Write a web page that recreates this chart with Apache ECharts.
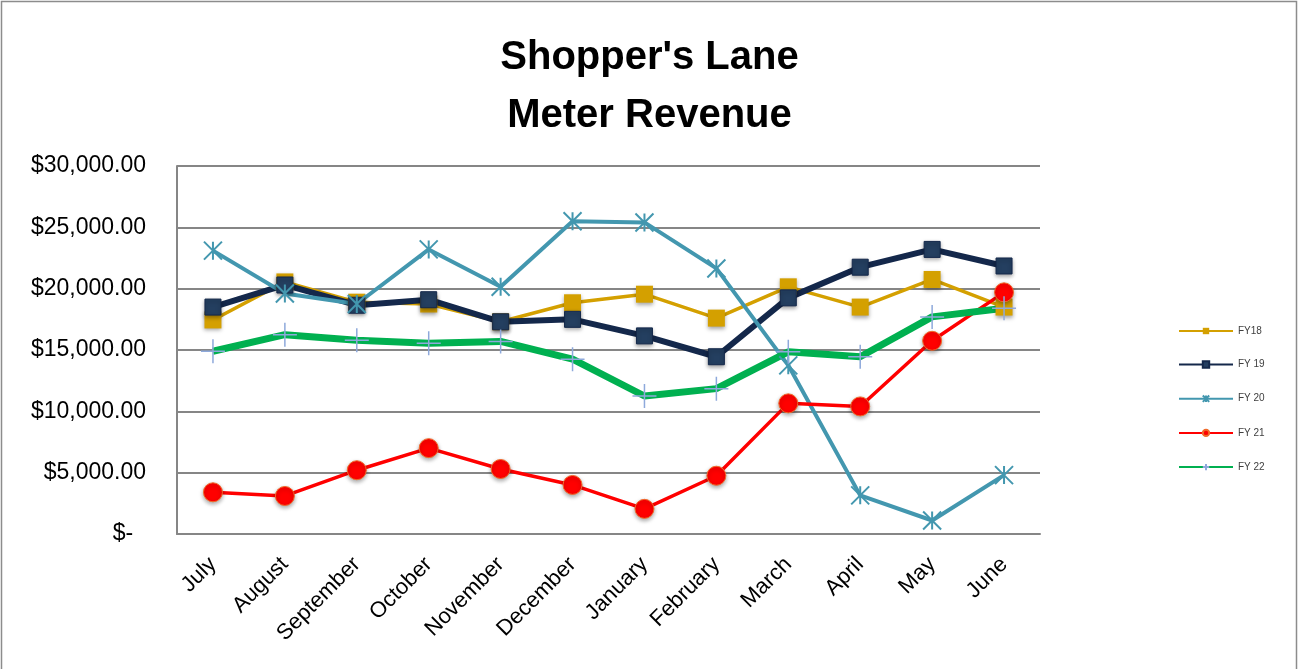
<!DOCTYPE html>
<html lang="en">
<head>
    <meta charset="UTF-8">
    <title>Shopper's Lane Meter Revenue</title>
    <style>
        * {
            margin: 0px;
            padding: 0px;
        }

        #main {
            width: 1299px;
            height: 669px;
            background-color: #ffffff
        }
    </style>
</head>
<body>
<div id="main"></div>
<script src="https://cdn.jsdelivr.net/npm/echarts@6/dist/echarts.min.js"></script>
<script type="text/javascript">
    // months of the fiscal year
    var months = ['July', 'August', 'September', 'October', 'November', 'December',
        'January', 'February', 'March', 'April', 'May', 'June'];

    var fy18 = [17450, 20550, 18900, 18750, 17300, 18850, 19550, 17600, 20150, 18500, 20750, 18500];
    var fy19 = [18500, 20300, 18650, 19100, 17300, 17500, 16150, 14450, 19250, 21750, 23200, 21850];
    var fy20 = [23100, 19600, 18750, 23200, 20150, 25500, 25400, 21650, 13750, 3150, 1100, 4800];
    var fy21 = [3400, 3100, 5200, 7000, 5300, 4000, 2050, 4750, 10650, 10400, 15750, 19700];
    var fy22 = [14900, 16250, 15800, 15550, 15700, 14250, 11250, 11850, 14850, 14450, 17700, 18400];

    var yTicks = [0, 5000, 10000, 15000, 20000, 25000, 30000];

    var font = 'Liberation Sans';
    var starPath = 'path://M0,0L10,10M10,0L0,10M5,0L5,10';
    var plusPath = 'path://M5,0L5,10M0,5L10,5';

    function money(v) {
        if (v === 0) return '$-  ';
        return '$' + v.toLocaleString('en-US', {minimumFractionDigits: 2, maximumFractionDigits: 2});
    }

    var myChart = echarts.init(document.getElementById('main'));
    myChart.setOption({
        animation: false,
        textStyle: {fontFamily: font},
        title: {
            text: "Shopper's Lane\nMeter Revenue",
            left: 'center',
            top: 24,
            textStyle: {
                fontFamily: font,
                fontSize: 40,
                fontWeight: 'bold',
                color: '#000000',
                lineHeight: 58
            }
        },
        graphic: [{
            type: 'rect',
            shape: {x: 1.5, y: 1.5, width: 1295, height: 700},
            style: {fill: 'none', stroke: '#8c8c8c', lineWidth: 1.5},
            silent: true
        }],
        legend: {
            orient: 'vertical',
            left: 1173,
            top: 321,
            itemGap: 23.5,
            itemWidth: 54,
            itemHeight: 8,
            textStyle: {fontSize: 10, color: '#404040', fontFamily: font},
            data: ['FY18', 'FY 19', 'FY 20', 'FY 21', 'FY 22']
        },
        grid: {
            left: 177,
            right: 259,
            top: 166,
            bottom: 135,
            containLabel: false
        },
        xAxis: {
            type: 'category',
            data: months,
            boundaryGap: true,
            axisLine: {lineStyle: {color: '#868686', width: 2}},
            axisTick: {show: false},
            axisLabel: {
                rotate: 45,
                interval: 0,
                margin: 27,
                fontSize: 22,
                color: '#000000',
                fontFamily: font
            }
        },
        yAxis: {
            type: 'value',
            min: yTicks[0],
            max: yTicks[yTicks.length - 1],
            interval: 5000,
            axisLine: {show: true, lineStyle: {color: '#868686', width: 2}},
            axisTick: {show: false},
            splitLine: {lineStyle: {color: '#868686', width: 2}},
            axisLabel: {
                formatter: money,
                margin: 31,
                fontSize: 23,
                color: '#000000',
                fontFamily: font
            }
        },
        series: [
            {
                name: 'FY18',
                type: 'line',
                data: fy18,
                symbol: 'rect',
                symbolSize: 17,
                lineStyle: {color: '#D4A000', width: 3.5},
                itemStyle: {color: '#D4A000', shadowBlur: 4, shadowColor: 'rgba(0,0,0,0.35)', shadowOffsetY: 2}
            },
            {
                name: 'FY 19',
                type: 'line',
                data: fy19,
                symbol: 'rect',
                symbolSize: 16,
                lineStyle: {color: '#14284B', width: 6},
                itemStyle: {color: '#243F60', borderColor: '#14284B', borderWidth: 1, shadowBlur: 4, shadowColor: 'rgba(0,0,0,0.35)', shadowOffsetY: 2}
            },
            {
                name: 'FY 20',
                type: 'line',
                data: fy20,
                symbol: starPath,
                symbolSize: 18,
                lineStyle: {color: '#4397AF', width: 4},
                itemStyle: {color: 'none', borderColor: '#4397AF', borderWidth: 2}
            },
            {
                name: 'FY 21',
                type: 'line',
                data: fy21,
                symbol: 'circle',
                symbolSize: 19,
                lineStyle: {color: '#FF0000', width: 3.5},
                itemStyle: {color: '#FF0000', borderColor: '#F06A2A', borderWidth: 1, shadowBlur: 4, shadowColor: 'rgba(0,0,0,0.35)', shadowOffsetY: 2}
            },
            {
                name: 'FY 22',
                type: 'line',
                data: fy22,
                symbol: plusPath,
                symbolSize: 24,
                lineStyle: {color: '#00B050', width: 7},
                itemStyle: {color: 'none', borderColor: '#8EA9DB', borderWidth: 1.5}
            }
        ]
    });
</script>
</body>
</html>
